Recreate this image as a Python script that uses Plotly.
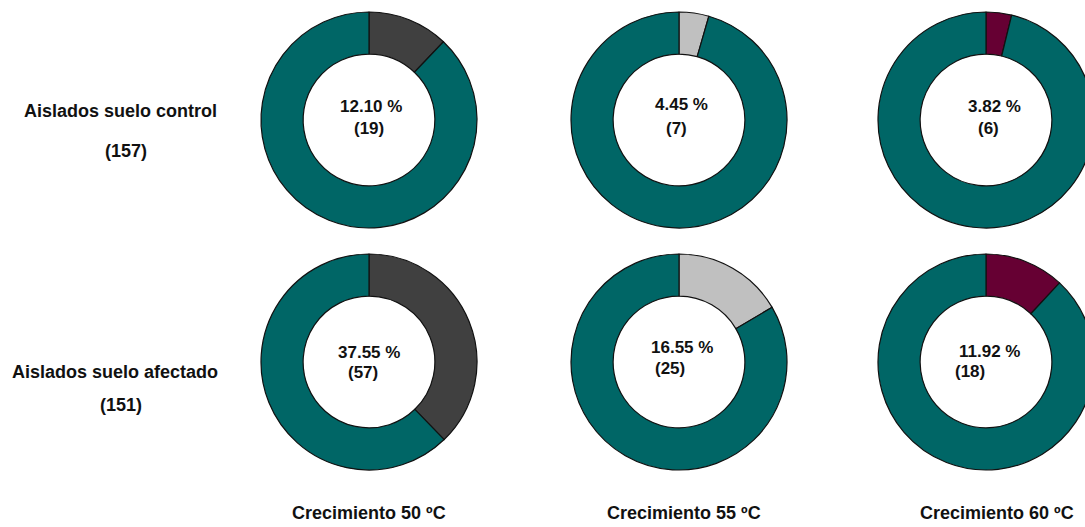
import plotly.graph_objects as go

# Isolates growing at each temperature, per soil group
temperaturas = ["Crecimiento 50 ºC", "Crecimiento 55 ºC", "Crecimiento 60 ºC"]
grupos = ["Aislados suelo control", "Aislados suelo afectado"]
totales = [157, 151]
positivos_control = [19, 7, 6]
positivos_afectado = [57, 25, 18]
etiquetas_control = ["12.10 %", "4.45 %", "3.82 %"]
etiquetas_afectado = ["37.55 %", "16.55 %", "11.92 %"]

# Styling
W, H = 1100, 527
FONT = "Arial, 'Liberation Sans', sans-serif"
TEAL = "#006666"
COLOR_TEMP = ["#404040", "#c0c0c0", "#660033"]
CX = [369, 679, 986]          # donut centres (px)
CY = [120, 362]
R = 108                       # outer radius (px)

# text placement inside the holes: (x1, y1, x2, y2) in px
POS_TXT = [
    [(371, 106, 369, 128), (681, 105, 676, 129), (994, 107, 988, 128)],
    [(369, 352, 363, 372), (682, 347, 670, 368), (989, 351, 970, 371)],
]


def px(x, y):
    return x / W, 1 - y / H


fig = go.Figure()
annotations = []

filas = [(positivos_control, etiquetas_control), (positivos_afectado, etiquetas_afectado)]
for r, (positivos, etiquetas) in enumerate(filas):
    total = totales[r]
    for c in range(3):
        x0, y0 = px(CX[c] - R, CY[r] + R)
        x1, y1 = px(CX[c] + R, CY[r] - R)
        fig.add_trace(go.Pie(
            values=[positivos[c], total - positivos[c]],
            labels=["crece", "no crece"],
            hole=0.61,
            sort=False,
            direction="clockwise",
            rotation=0,
            textinfo="none",
            hoverinfo="label+value+percent",
            marker=dict(colors=[COLOR_TEMP[c], TEAL],
                        line=dict(color="#111111", width=1.2)),
            domain=dict(x=[x0, x1], y=[y0, y1]),
            showlegend=False,
        ))
        ax1, ay1, ax2, ay2 = POS_TXT[r][c]
        for tx, ty, txt in [(ax1, ay1, etiquetas[c]), (ax2, ay2, f"({positivos[c]})")]:
            xx, yy = px(tx, ty)
            annotations.append(dict(
                x=xx, y=yy, xref="paper", yref="paper", text=f"<b>{txt}</b>",
                showarrow=False, xanchor="center", yanchor="middle",
                font=dict(family=FONT, size=17, color="#111111"),
            ))

# row labels
for (tx, ty, txt) in [(120, 111, grupos[0]), (126, 151, f"({totales[0]})"),
                      (115, 372, grupos[1]), (121, 405, f"({totales[1]})")]:
    xx, yy = px(tx, ty)
    annotations.append(dict(
        x=xx, y=yy, xref="paper", yref="paper", text=f"<b>{txt}</b>",
        showarrow=False, xanchor="center", yanchor="middle",
        font=dict(family=FONT, size=18, color="#111111"),
    ))

# column labels
for c, tx in enumerate([369, 684, 997]):
    xx, yy = px(tx, 513)
    annotations.append(dict(
        x=xx, y=yy, xref="paper", yref="paper", text=f"<b>{temperaturas[c]}</b>",
        showarrow=False, xanchor="center", yanchor="middle",
        font=dict(family=FONT, size=18, color="#111111"),
    ))

fig.update_layout(
    width=W, height=H,
    margin=dict(l=0, r=0, t=0, b=0),
    paper_bgcolor="white",
    plot_bgcolor="white",
    annotations=annotations,
)

fig.write_html(
    "out.html",
    post_script=(
        "document.documentElement.style.overflow='hidden';"
        "document.body.style.overflow='hidden';"
        "document.body.style.margin='0';"
    ),
)
